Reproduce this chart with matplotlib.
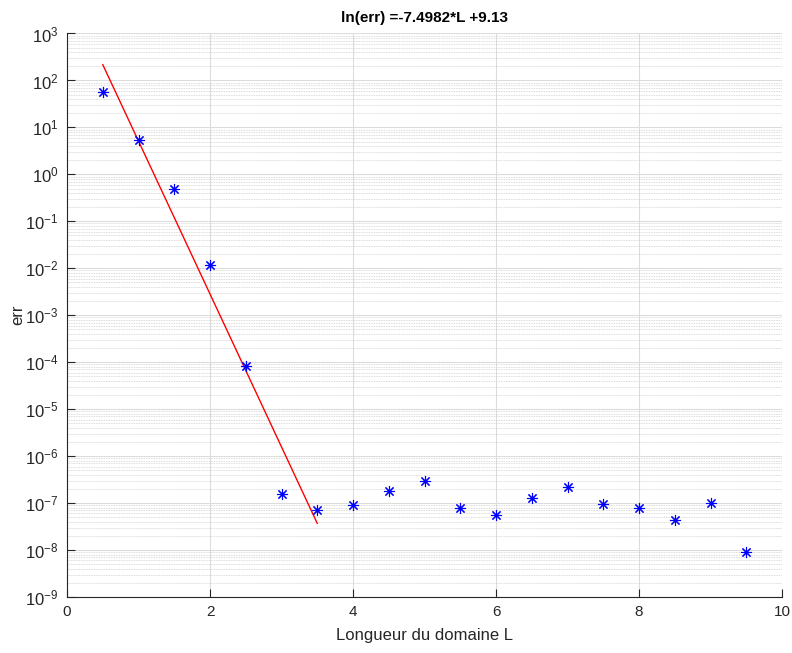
import numpy as np
import matplotlib.pyplot as plt
from matplotlib.ticker import LogLocator, NullFormatter

plt.rcParams['font.family'] = ['Liberation Sans', 'DejaVu Sans']
plt.rcParams['mathtext.fontset'] = 'custom'
plt.rcParams['mathtext.rm'] = 'Liberation Sans'
plt.rcParams['mathtext.default'] = 'regular'

# Data
L = [0.5, 1.0, 1.5, 2.0, 2.5, 3.0, 3.5, 4.0, 4.5, 5.0,
     5.5, 6.0, 6.5, 7.0, 7.5, 8.0, 8.5, 9.0, 9.5]
err = [56, 5.4, 0.50, 0.0117, 8.5e-5, 1.58e-7, 7.0e-8, 9.1e-8, 1.83e-7, 2.88e-7,
       7.9e-8, 5.6e-8, 1.28e-7, 2.25e-7, 9.7e-8, 7.7e-8, 4.3e-8, 9.8e-8, 8.9e-9]

# fit ln(err) = a*L + b, shown over the first points
a, b = -7.4982, 9.13
L_fit = [0.5, 3.5]

fig = plt.figure(figsize=(7.92, 6.53), dpi=100)
ax = fig.add_axes([0.0846, 0.0858, 0.9028, 0.8629])

L_fit = np.array(L_fit)
ax.plot(L_fit, np.exp(a * L_fit + b), color='red', lw=1)
ax.plot(L, err, linestyle='none', marker=(8, 2, 0), markersize=8,
        markeredgewidth=0.8, color='blue')

ax.set_yscale('log')
ax.set_xlim(0, 10)
ax.set_ylim(1e-9, 1e3)
ax.set_xticks([0, 2, 4, 6, 8, 10])
ax.yaxis.set_major_locator(LogLocator(base=10, numticks=20))
ax.yaxis.set_minor_locator(LogLocator(base=10, subs=np.arange(2, 10), numticks=20))
ax.yaxis.set_minor_formatter(NullFormatter())

ax.grid(True, which='major', color='#dcdcdc', lw=0.8, ls='-')
ax.grid(True, which='minor', axis='y', color='#d0d0d0', lw=0.6, ls=(0, (1, 1)))
ax.set_axisbelow(True)

for side in ['top', 'right']:
    ax.spines[side].set_visible(False)
for side in ['left', 'bottom']:
    ax.spines[side].set_color('#262626')
    ax.spines[side].set_linewidth(0.8)

ax.tick_params(which='major', direction='in', length=6, width=0.8,
               colors='#262626', pad=6)
ax.tick_params(axis='y', which='major', labelsize=12)
ax.tick_params(axis='x', which='major', labelsize=11)
ax.tick_params(which='minor', left=False, bottom=False)

ax.set_xlabel('Longueur du domaine L', fontsize=12, color='#262626', labelpad=6)
ax.set_ylabel('err', fontsize=12, color='#262626', labelpad=0)
ax.set_title('ln(err) =-7.4982*L +9.13', fontsize=11, fontweight='bold', pad=8)

fig.savefig('out.png', dpi=100)
